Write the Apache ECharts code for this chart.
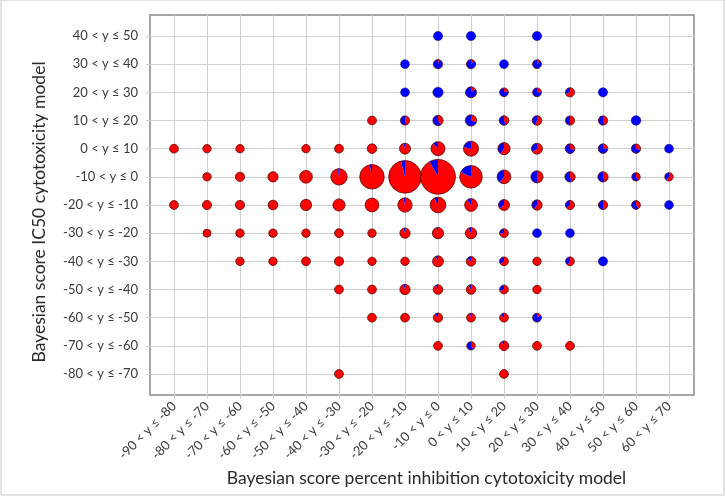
<!DOCTYPE html>
<html>
<head>
<meta charset="utf-8">
<script src="https://cdn.jsdelivr.net/npm/echarts@6/dist/echarts.min.js"></script>
<style>
  html, body { margin: 0; padding: 0; background: #fff; }
  #chart { width: 726px; height: 497px; }
</style>
</head>
<body>
<div id="chart"></div>
<script>
const xLabels = ['-90 < y ≤ -80', '-80 < y ≤ -70', '-70 < y ≤ -60', '-60 < y ≤ -50', '-50 < y ≤ -40',
  '-40 < y ≤ -30', '-30 < y ≤ -20', '-20 < y ≤ -10', '-10 < y ≤ 0', '0 < y ≤ 10', '10 < y ≤ 20',
  '20 < y ≤ 30', '30 < y ≤ 40', '40 < y ≤ 50', '50 < y ≤ 60', '60 < y ≤ 70'];
const yLabels = ['-80 < y ≤ -70', '-70 < y ≤ -60', '-60 < y ≤ -50', '-50 < y ≤ -40', '-40 < y ≤ -30',
  '-30 < y ≤ -20', '-20 < y ≤ -10', '-10 < y ≤ 0', '0 < y ≤ 10', '10 < y ≤ 20', '20 < y ≤ 30',
  '30 < y ≤ 40', '40 < y ≤ 50'];

const _ = null;
// compounds per cell, rows from bottom (-80..-70) to top (40..50)
const counts = [
  [_, _, _, _, _, 11, _, _, _, _, 11, _, _, _, _, _],
  [_, _, _, _, _, _, _, _, 11, 10, 13, 11, 11, _, _, _],
  [_, _, _, _, _, _, 11, 11, 12, 11, 11, 11, _, _, _, _],
  [_, _, _, _, _, 11, 11, 15, 13, 13, 11, 10, _, _, _, _],
  [_, _, 10, 10, 11, 12, 10, 10, 17, 13, 11, 10, 11, 12, _, _],
  [_, 9, 10, 10, 10, 11, 10, 15, 18, 18, 11, 11, 11, _, _, _],
  [11, 12, 12, 13, 18, 21, 27, 29, 35, 23, 17, 15, 12, 12, 11, 11],
  [_, 10, 12, 15, 23, 38, 85, 151, 171, 72, 27, 21, 15, 15, 10, 10],
  [11, 10, 10, _, 10, 11, 13, 17, 28, 32, 21, 17, 13, 13, 12, 11],
  [_, _, _, _, _, _, 11, 12, 15, 18, 13, 13, 12, 12, 13, _],
  [_, _, _, _, _, _, _, 11, 15, 17, 11, 11, 12, 12, _, _],
  [_, _, _, _, _, _, _, 11, 12, 12, 11, 11, _, _, _, _],
  [_, _, _, _, _, _, _, _, 12, 12, _, 12, _, _, _, _]
];
// share (%) of the cell that is blue
const bluePct = [
  [_, _, _, _, _, 0, _, _, _, _, 0, _, _, _, _, _],
  [_, _, _, _, _, _, _, _, 0, 60, 8, 0, 0, _, _, _],
  [_, _, _, _, _, _, 0, 0, 12, 5, 15, 85, _, _, _, _],
  [_, _, _, _, _, 0, 0, 5, 8, 10, 30, 0, _, _, _, _],
  [_, _, 0, 0, 0, 0, 0, 0, 8, 15, 35, 0, 40, 100, _, _],
  [_, 0, 0, 0, 0, 0, 0, 5, 5, 8, 25, 100, 100, _, _, _],
  [0, 0, 0, 0, 0, 0, 3, 4, 8, 10, 35, 40, 35, 50, 60, 100],
  [_, 0, 0, 0, 2, 2, 3, 4, 8, 18, 40, 50, 55, 55, 60, 40],
  [0, 0, 0, _, 0, 0, 3, 5, 12, 22, 40, 35, 70, 75, 70, 100],
  [_, _, _, _, _, _, 0, 55, 60, 70, 55, 45, 50, 55, 100, _],
  [_, _, _, _, _, _, _, 100, 100, 85, 80, 75, 30, 100, _, _],
  [_, _, _, _, _, _, _, 100, 95, 90, 100, 90, _, _, _, _],
  [_, _, _, _, _, _, _, _, 100, 100, _, 100, _, _, _, _]
];

const cells = [];
counts.forEach((row, yi) => {
  row.forEach((n, xi) => {
    if (n != null) cells.push([xi, yi, n, bluePct[yi][xi]]);
  });
});

const gridColor = '#d0d0d0';
const labelFont = { color: '#3a3a3a', fontSize: 13, fontFamily: 'Lato' };
const nameFont = { color: '#2a2a2a', fontSize: 17.5, fontFamily: 'Lato' };

function renderPie(params, api) {
  const c = api.coord([api.value(0), api.value(1)]);
  const r = 1.33 * Math.sqrt(api.value(2));
  const b = api.value(3) / 100;
  const top = -Math.PI / 2;
  const split = top + 2 * Math.PI * (1 - b);
  const children = [];
  if (b <= 0 || b >= 1) {
    children.push({ type: 'circle', shape: { cx: c[0], cy: c[1], r: r },
      style: { fill: b >= 1 ? '#0000ff' : '#ff0000' } });
  } else {
    children.push({ type: 'sector', shape: { cx: c[0], cy: c[1], r0: 0, r: r,
      startAngle: top, endAngle: split, clockwise: true }, style: { fill: '#ff0000' } });
    children.push({ type: 'sector', shape: { cx: c[0], cy: c[1], r0: 0, r: r,
      startAngle: split, endAngle: top + 2 * Math.PI, clockwise: true }, style: { fill: '#0000ff' } });
  }
  children.push({ type: 'circle', shape: { cx: c[0], cy: c[1], r: r },
    style: { fill: null, stroke: b >= 1 ? 'rgba(0,0,90,0.5)' : 'rgba(90,10,10,0.8)', lineWidth: 1 } });
  return { type: 'group', children: children };
}

const chart = echarts.init(document.getElementById('chart'));
chart.setOption({
  animation: false,
  grid: [
    { left: 174, right: 57, top: 36, bottom: 123 },
    { left: 150, top: 15, width: 544, height: 380, show: true, borderColor: '#8a8a8a', borderWidth: 1.5 },
    { left: 1, top: -3, right: 2, bottom: 2, show: true, borderColor: '#c8c8c8', borderWidth: 1 }
  ],
  xAxis: [
    {
      type: 'category', gridIndex: 0, data: xLabels, boundaryGap: false,
      axisLine: { show: false },
      axisTick: { show: true, interval: 0, length: 25, lineStyle: { color: gridColor } },
      splitLine: { show: true, interval: 0, lineStyle: { color: gridColor, width: 1 } },
      axisLabel: { interval: 0, rotate: 45, margin: 30, ...labelFont },
      name: 'Bayesian score percent inhibition cytotoxicity model',
      nameLocation: 'middle', nameGap: 95, nameTextStyle: { ...nameFont, padding: [0, 0, 0, 10] }
    },
    {
      type: 'category', gridIndex: 0, data: xLabels, boundaryGap: false, position: 'top',
      axisLine: { show: false }, axisLabel: { show: false }, splitLine: { show: false },
      axisTick: { show: true, interval: 0, length: 21, lineStyle: { color: gridColor } }
    },
    { type: 'value', gridIndex: 1, show: false },
    { type: 'value', gridIndex: 2, show: false }
  ],
  yAxis: [
    {
      type: 'category', gridIndex: 0, data: yLabels, boundaryGap: false,
      axisLine: { show: false },
      axisTick: { show: true, interval: 0, length: 28, lineStyle: { color: gridColor } },
      splitLine: { show: true, interval: 0, lineStyle: { color: gridColor, width: 1 } },
      axisLabel: { interval: 0, margin: 36, ...labelFont },
      name: 'Bayesian score IC50 cytotoxicity model',
      nameLocation: 'middle', nameGap: 126, nameTextStyle: { ...nameFont, padding: [0, 14, 0, 0] }
    },
    {
      type: 'category', gridIndex: 0, data: yLabels, boundaryGap: false, position: 'right',
      axisLine: { show: false }, axisLabel: { show: false }, splitLine: { show: false },
      axisTick: { show: true, interval: 0, length: 25, lineStyle: { color: gridColor } }
    },
    { type: 'value', gridIndex: 1, show: false },
    { type: 'value', gridIndex: 2, show: false }
  ],
  series: [
    {
      type: 'custom',
      coordinateSystem: 'cartesian2d',
      xAxisIndex: 0,
      yAxisIndex: 0,
      clip: false,
      encode: { x: 0, y: 1 },
      renderItem: renderPie,
      data: cells,
      z: 5
    }
  ]
});
</script>
</body>
</html>
